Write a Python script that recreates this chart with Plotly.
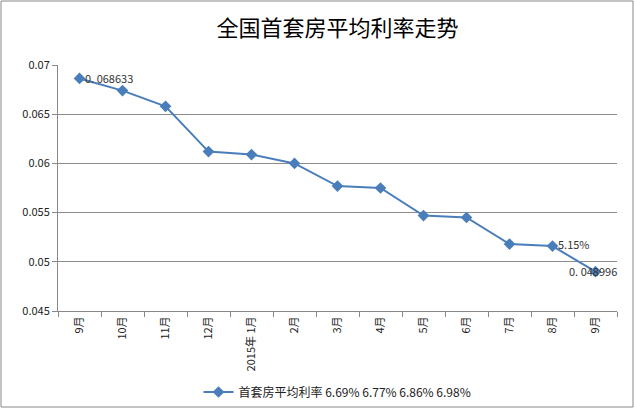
import plotly.graph_objects as go

categories = ["9月", "10月", "11月", "12月", "2015年 1月", "2月", "3月", "4月", "5月", "6月", "7月", "8月", "9月"]
rates = [0.068633, 0.0674, 0.0658, 0.0612, 0.0609, 0.0600, 0.0577, 0.0575, 0.0547, 0.0545, 0.0518, 0.0516, 0.048996]
series_name = "首套房平均利率 6.69% 6.77% 6.86% 6.98%"
title_text = "全国首套房平均利率走势"
label_points = [(0, "0. 068633"), (11, "5.15%"), (12, "0. 048996")]

# unique keys for the category axis (two different "9月")
keys = [f"{i}" for i in range(len(categories))]

W, H = 634, 408
ml, mr, mt, mb = 58, 17, 65, 97
pw, ph = W - ml - mr, H - mt - mb

fig = go.Figure()
fig.add_trace(go.Scatter(
    x=keys, y=rates, mode="lines+markers", name=series_name,
    line=dict(color="#4a7ebb", width=2),
    marker=dict(symbol="diamond", size=9, color="#4a7ebb"),
))

font_cjk = "Noto Sans CJK SC"
anns = []
i, t = label_points[0]
anns.append(dict(x=keys[i], y=rates[i], text=t, showarrow=False, xanchor="left", yanchor="middle",
                 xshift=3, font=dict(size=11, color="#333")))
i, t = label_points[1]
anns.append(dict(x=keys[i], y=rates[i], text=t, showarrow=False, xanchor="left", yanchor="middle",
                 xshift=3, yshift=2, font=dict(size=11, color="#333")))
i, t = label_points[2]
anns.append(dict(x=keys[i], y=rates[i], text=t, showarrow=False, xanchor="center", yanchor="middle",
                 xshift=-3, yshift=1, font=dict(size=11, color="#333")))

fig.update_layout(
    width=W, height=H,
    margin=dict(l=ml, r=mr, t=mt, b=mb, autoexpand=False),
    paper_bgcolor="white", plot_bgcolor="white",
    font=dict(family=font_cjk, size=11, color="#222"),
    title=dict(text=title_text, x=0.5, xref="paper", y=1 - 28 / H, yanchor="middle",
               font=dict(family=font_cjk, size=22, color="#000")),
    showlegend=True,
    legend=dict(orientation="h", x=0.5, xanchor="center", yref="container", y=1 - 392 / H,
                yanchor="middle", font=dict(size=12, color="#222"), bgcolor="rgba(0,0,0,0)"),
    annotations=anns,
    shapes=[dict(type="rect", xref="paper", yref="paper",
                 x0=-(ml - 1) / pw, x1=1 + (mr - 1) / pw,
                 y0=-(mb - 1) / ph, y1=1 + (mt - 1) / ph,
                 line=dict(color="#888", width=1), layer="below")],
)
fig.update_xaxes(type="category", showgrid=False, showline=True, linecolor="#888", linewidth=1,
                 tickmode="array", tickvals=keys, ticktext=categories,
                 ticks="outside", tickson="boundaries", ticklen=5, tickcolor="#888", automargin=False,
                 tickangle=-90, tickfont=dict(size=11, color="#222"), range=[-0.5, 12.5])
fig.update_yaxes(range=[0.045, 0.07], dtick=0.005, showgrid=True, gridcolor="#8c8c8c", gridwidth=1,
                 showline=True, linecolor="#888", linewidth=1, ticks="outside", ticklen=5, automargin=False,
                 tickcolor="#888", tickfont=dict(size=11, color="#222"), zeroline=False)

fig.write_html("out.html")
